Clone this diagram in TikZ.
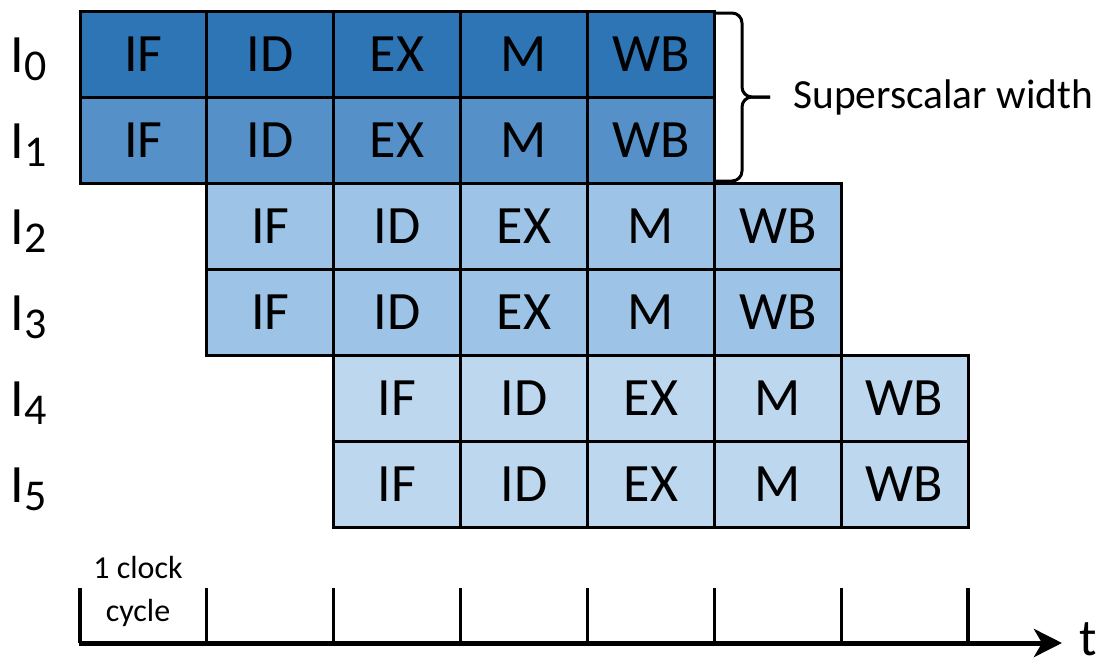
\documentclass[tikz,border=0pt]{standalone}
\usepackage{fontspec}
\setmainfont{Carlito}
\usetikzlibrary{arrows.meta, positioning}

\definecolor{rowA}{HTML}{2E75B6}
\definecolor{rowB}{HTML}{5590C8}
\definecolor{rowC}{HTML}{9DC3E6}
\definecolor{rowD}{HTML}{BDD7EE}

\begin{document}
\begin{tikzpicture}[x=0.5pt, y=-0.5pt,
    stage/.style={draw, line width=1.5pt, minimum width=63.43pt, minimum height=43pt,
      inner sep=0pt, font=\fontsize{27}{32}\selectfont},
    instr/.style={anchor=base west, inner sep=0pt, font=\fontsize{27}{32}\selectfont},
    tick/.style={line width=1.6pt},
    axis/.style={line width=2.5pt, -{Stealth[length=14pt, width=14pt, inset=4pt]}}]
    \useasboundingbox (0, 0) rectangle (1099, 664);

    % Pipeline stages, two instructions per cycle
    \foreach \r/\col in {0/rowA, 1/rowB, 2/rowC, 3/rowC, 4/rowD, 5/rowD} {
        \pgfmathtruncatemacro\g{\r/2}
        \foreach \s [count=\j from 0] in {IF, ID, EX, M, WB}
            \node[stage, fill=\col] (s\r\s) at ({80+126.86*(\g+\j)+63.43}, {11+86*\r+43}) {\s};
        \node[instr] (i\r) at (10, {72+86*\r})
            {I\raisebox{-4pt}{\fontsize{22}{26}\selectfont\r}};
    }

    % Brace for the issue width
    \draw[line width=1.5pt, rounded corners=5pt] (714, 13) -- (742, 13) -- (742, 97) -- (770, 97);
    \draw[line width=1.5pt, rounded corners=5pt] (770, 97) -- (742, 97) -- (742, 181) -- (714, 181);
    \coordinate (brtip) at (770, 97);
    \node[anchor=base west, inner sep=0pt, font=\fontsize{20.7}{24}\selectfont] (width) at (793, 108) {Superscalar width};

    % Time axis
    \foreach \k in {0, ..., 7}
        \draw[tick] ({80+126.86*\k}, 588) -- ({80+126.86*\k}, 643);
    \coordinate (ax0) at (79, 643);
    \coordinate (ax1) at (1062, 643);
    \draw[axis] (ax0) -- (ax1);
    \node[anchor=base west, inner sep=0pt, font=\fontsize{26}{30}\selectfont] (t) at (1079, 655) {t};
    \node[align=center, font=\fontsize{16}{21.5}\selectfont] (clk) at (138, 591) {1 clock\\cycle};
\end{tikzpicture}
\end{document}
